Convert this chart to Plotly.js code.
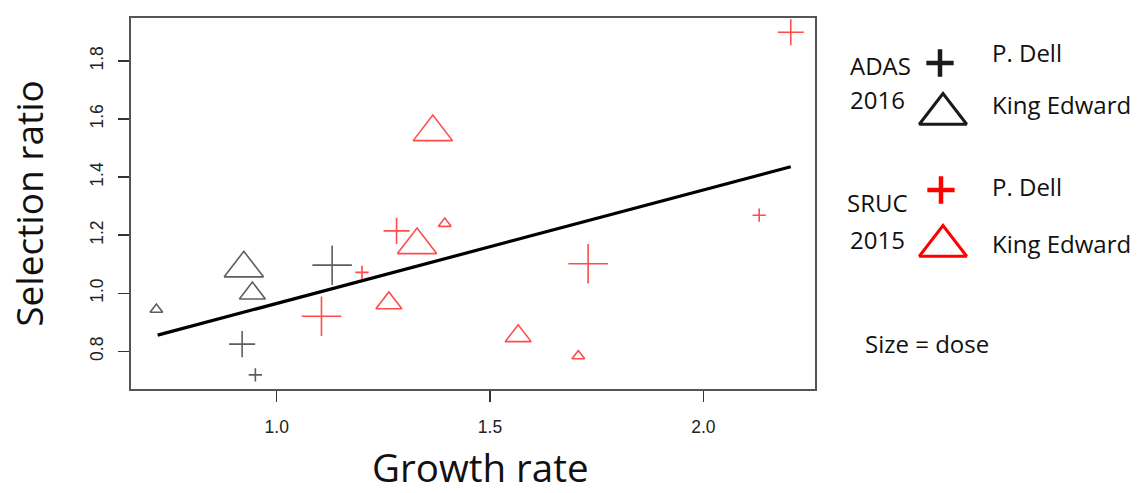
<!DOCTYPE html>
<html><head><meta charset="utf-8">
<script src="https://cdn.plot.ly/plotly-3.0.1.min.js"></script>
<style>html,body{margin:0;padding:0;background:#fff}#chart{width:1137px;height:493px}</style>
</head><body><div id="chart"></div>
<script>
// ADAS 2016 - P. Dell
const adasDellGrowth = [0.919, 0.950, 1.130];
const adasDellRatio  = [0.825, 0.719, 1.097];
const adasDellDose   = [2, 1, 3];
// ADAS 2016 - King Edward
const adasKEGrowth = [0.718, 0.943, 0.923];
const adasKERatio  = [0.944, 1.000, 1.086];
const adasKEDose   = [1, 2, 3];
// SRUC 2015 - P. Dell
const srucDellGrowth = [1.105, 1.200, 1.281, 1.730, 2.131, 2.205];
const srucDellRatio  = [0.921, 1.072, 1.215, 1.102, 1.269, 1.899];
const srucDellDose   = [3, 1, 2, 3, 1, 2];
// SRUC 2015 - King Edward
const srucKEGrowth = [1.329, 1.394, 1.263, 1.366, 1.566, 1.707];
const srucKERatio  = [1.166, 1.240, 0.966, 1.555, 0.853, 0.784];
const srucKEDose   = [3, 1, 2, 3, 2, 1];
// fitted regression line
const fitGrowth = [0.721, 2.205];
const fitRatio  = [0.856, 1.436];

const xTickVals = [1.0, 1.5, 2.0];
const xTickText = ['1.0', '1.5', '2.0'];
const yTickVals = [0.8, 1.0, 1.2, 1.4, 1.6, 1.8];
const yTickText = ['0.8', '1.0', '1.2', '1.4', '1.6', '1.8'];

// titles and legend labels
const xTitle = 'Growth rate';
const yTitle = 'Selection ratio';
const groupLabels = [['ADAS', '2016'], ['SRUC', '2015']];
const cultivarLabels = ['P. Dell', 'King Edward'];
const sizeNote = 'Size = dose';

// ---- styles ----
const BLACK = '#1a1a1a', RED = '#ff0000';
const crossSize = {1: 9.5, 2: 18.6, 3: 28.2};
const triSize = {1: 11, 2: 22.5, 3: 34};

function crossTrace(x, y, dose, color) {
  return {type: 'scatter', mode: 'markers', x: x, y: y, xaxis: 'x', yaxis: 'y',
    hoverinfo: 'skip', showlegend: false, cliponaxis: false,
    marker: {symbol: 'cross-thin', size: dose.map(d => crossSize[d]), color: color,
      line: {color: color, width: 1.6}}};
}
function triTrace(x, y, dose, color) {
  return {type: 'scatter', mode: 'markers', x: x, y: y, xaxis: 'x', yaxis: 'y',
    hoverinfo: 'skip', showlegend: false, cliponaxis: false,
    marker: {symbol: 'triangle-up-open', size: dose.map(d => triSize[d]), color: color,
      line: {color: color, width: 1.6}}};
}

const W = 1137, H = 493;
const traces = [
  {type: 'scatter', mode: 'lines', x: fitGrowth, y: fitRatio, xaxis: 'x', yaxis: 'y',
   line: {color: '#000', width: 3.2}, hoverinfo: 'skip', showlegend: false},
  crossTrace(adasDellGrowth, adasDellRatio, adasDellDose, BLACK),
  triTrace(adasKEGrowth, adasKERatio, adasKEDose, BLACK),
  crossTrace(srucDellGrowth, srucDellRatio, srucDellDose, RED),
  triTrace(srucKEGrowth, srucKERatio, srucKEDose, RED),
  // legend glyphs (on a pixel-space overlay axis)
  {type: 'scatter', mode: 'markers', x: [940, 941], y: [63, 190], xaxis: 'x2', yaxis: 'y2',
   hoverinfo: 'skip', showlegend: false,
   marker: {symbol: 'cross-thin', size: 19.5, color: [BLACK, RED], line: {color: [BLACK, RED], width: 4.5}}},
  {type: 'scatter', mode: 'markers', x: [943, 943], y: [114, 246], xaxis: 'x2', yaxis: 'y2',
   hoverinfo: 'skip', showlegend: false,
   marker: {symbol: 'triangle-up-open', size: 41, color: [BLACK, RED], line: {color: [BLACK, RED], width: 3}}}
];

const txtFont = {family: 'Open Sans, sans-serif', size: 24, color: '#111'};
function ann(text, x, y, xanchor) {
  return {text: text, x: x, y: y, xref: 'x2', yref: 'y2', showarrow: false,
    xanchor: xanchor || 'center', yanchor: 'middle', font: txtFont};
}
const annotations = [
  ann(groupLabels[0][0], 880, 65), ann(groupLabels[0][1], 877, 99),
  ann(cultivarLabels[0], 990, 52, 'left'), ann(cultivarLabels[1], 990, 104, 'left'),
  ann(groupLabels[1][0], 877, 202), ann(groupLabels[1][1], 877, 239),
  ann(cultivarLabels[0], 990, 186, 'left'), ann(cultivarLabels[1], 990, 243, 'left'),
  ann(sizeNote, 927, 343),
  {text: xTitle, x: 480, y: 467, xref: 'x2', yref: 'y2', showarrow: false,
   xanchor: 'center', yanchor: 'middle',
   font: {family: 'Open Sans, sans-serif', size: 38.5, color: '#111'}}
];

const tickFont = {family: 'Liberation Sans, Arial, sans-serif', size: 17.5, color: '#222'};
const layout = {
  width: W, height: H,
  margin: {l: 0, r: 0, t: 0, b: 0},
  paper_bgcolor: '#fff', plot_bgcolor: 'rgba(0,0,0,0)',
  showlegend: false,
  xaxis: {domain: [131 / W, 815 / W], range: [0.6585, 2.2618], anchor: 'y',
    tickmode: 'array', tickvals: xTickVals, ticktext: xTickText,
    ticks: 'outside', ticklen: 11, tickwidth: 1.5, tickcolor: '#333',
    showline: true, mirror: true, linecolor: '#555', linewidth: 2,
    showgrid: false, zeroline: false, tickfont: tickFont, ticklabelstandoff: 10,
    automargin: false, fixedrange: true},
  yaxis: {domain: [1 - 389 / H, 1 - 18 / H], range: [0.6705, 1.948], anchor: 'x',
    tickmode: 'array', tickvals: yTickVals, ticktext: yTickText, tickangle: -90,
    ticks: 'outside', ticklen: 11, tickwidth: 1.5, tickcolor: '#333',
    showline: true, mirror: true, linecolor: '#555', linewidth: 2,
    showgrid: false, zeroline: false, tickfont: tickFont, ticklabelstandoff: 8,
    title: {text: yTitle, font: {family: 'Open Sans, sans-serif', size: 37, color: '#111'}, standoff: 32},
    automargin: false, fixedrange: true},
  xaxis2: {domain: [0, 1], range: [0, W], anchor: 'y2', visible: false, fixedrange: true},
  yaxis2: {domain: [0, 1], range: [H, 0], anchor: 'x2', visible: false, fixedrange: true},
  annotations: annotations
};

Plotly.newPlot('chart', traces, layout, {staticPlot: true, displayModeBar: false});
</script>
</body></html>
